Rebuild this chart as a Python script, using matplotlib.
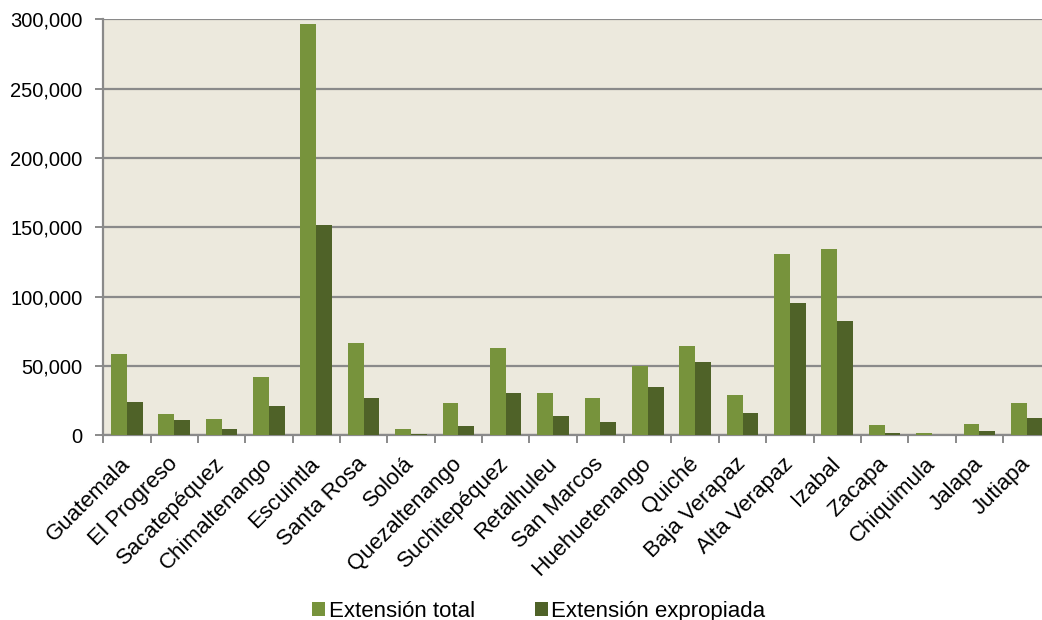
import numpy as np
import matplotlib.pyplot as plt
from matplotlib.ticker import FuncFormatter, FixedLocator

departamentos = ["Guatemala", "El Progreso", "Sacatepéquez", "Chimaltenango", "Escuintla",
                 "Santa Rosa", "Sololá", "Quezaltenango", "Suchitepéquez", "Retalhuleu",
                 "San Marcos", "Huehuetenango", "Quiché", "Baja Verapaz", "Alta Verapaz",
                 "Izabal", "Zacapa", "Chiquimula", "Jalapa", "Jutiapa"]
ext_total = [58400, 15600, 11800, 42100, 296700, 66600, 4300, 23100, 63000, 30300,
             26900, 50000, 64400, 28800, 130800, 134400, 7700, 1900, 8400, 23600]
ext_expropiada = [24300, 10800, 4300, 21400, 151400, 27200, 1200, 6500, 30800, 14200,
                  9600, 34900, 53100, 16300, 95200, 82700, 1400, 200, 3100, 12700]

plt.rcParams['font.family'] = ['Liberation Sans', 'DejaVu Sans']

light = "#77933c"
dark = "#4f6228"
grid = "#8a8a8a"

fig = plt.figure(figsize=(10.42, 6.2), dpi=100)
ax = fig.add_axes([0.099, 0.298, 0.909, 0.671])
ax.set_facecolor("#ece9dd")

x = np.arange(len(departamentos))
w = 1 / 3
b1 = ax.bar(x - w / 2, ext_total, w, color=light, label="Extensión total", zorder=3)
b2 = ax.bar(x + w / 2, ext_expropiada, w, color=dark, label="Extensión expropiada", zorder=3)

ax.set_xlim(-0.5, len(departamentos) - 0.5)
ax.set_ylim(0, 300000)
ax.set_yticks(np.arange(0, 300001, 50000))
ax.yaxis.set_major_formatter(FuncFormatter(lambda v, p: f"{int(v):,}"))
ax.grid(axis="y", color=grid, linewidth=1.6, zorder=1)
ax.set_axisbelow(True)

# category labels at centres, tick marks at the boundaries
ax.set_xticks(x - 0.15)
ax.set_xticklabels(departamentos, rotation=45, ha="right", rotation_mode="anchor", fontsize=16)
ax.tick_params(axis="x", which="major", length=0, pad=13)
ax.xaxis.set_minor_locator(FixedLocator(np.arange(-0.5, len(departamentos), 1)))
ax.tick_params(axis="x", which="minor", length=6, width=1.4, color=grid)
ax.tick_params(axis="y", length=6, width=1.4, color=grid, labelsize=14.5, pad=9)

for s in ["top", "right"]:
    ax.spines[s].set_visible(False)
for s in ["left", "bottom"]:
    ax.spines[s].set_color(grid)
    ax.spines[s].set_linewidth(1.6)

fig.legend(handles=[b1, b2], loc="lower center", bbox_to_anchor=(0.517, -0.035), ncol=2,
           frameon=False, fontsize=16, handlelength=0.6, handleheight=0.6,
           handletextpad=0.15, columnspacing=2.7)

fig.savefig("out.png", dpi=100)
